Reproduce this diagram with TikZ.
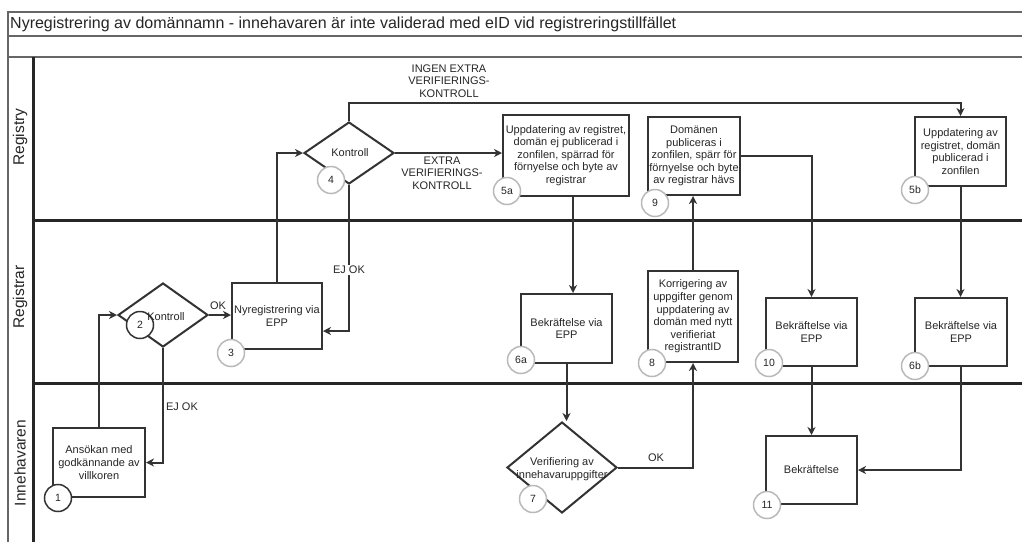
\documentclass[tikz,border=0pt]{standalone}
\usepackage{fontspec}
\setmainfont{Liberation Sans}
\usetikzlibrary{arrows.meta,shapes.geometric}
\tikzset{
  box/.style={draw=black!80, line width=2pt, fill=white, inner sep=0pt, align=center,
    font=\fontsize{11}{12.6}\selectfont, text=black!85},
  dia/.style={diamond, draw=black!80, line width=2pt, fill=white, inner sep=0pt},
  num/.style={circle, draw=gray!55, line width=1.5pt, fill=white, minimum size=27pt,
    inner sep=0pt, font=\fontsize{10.5}{11}\selectfont, text=black!85},
  numdark/.style={num, draw=black!80},
  flow/.style={draw=black!80, line width=2pt, -{Stealth[length=8pt,width=8pt,inset=2.5pt]}},
  lab/.style={font=\fontsize{11}{12.6}\selectfont, align=center, text=black!85, inner sep=1pt},
  lane/.style={line width=3pt, draw=black!85},
  frm/.style={line width=1.6pt, draw=black!60},
  lanelab/.style={rotate=90, font=\fontsize{15.5}{17}\selectfont, text=black!85}
}
\begin{document}
\begin{tikzpicture}[x=1pt,y=-1pt]
\useasboundingbox (0,0) rectangle (1022,542);
\fill[white] (0,0) rectangle (1022,542);
% frame
\draw[frm] (1022,12) -- (8,12) -- (8,542);
\draw[frm] (8,36) -- (1022,36);
\draw[frm] (8,57) -- (1022,57);
\draw[lane] (33,57) -- (33,542);
\draw[lane] (33,220) -- (1022,220);
\draw[lane] (33,383) -- (1022,383);
\node[anchor=west, font=\fontsize{16}{18}\selectfont, text=black!85, inner sep=0pt] (title) at (10,24)
  {Nyregistrering av domännamn - innehavaren är inte validerad med eID vid registreringstillfället};
\node[lanelab] (l1) at (20,137) {Registry};
\node[lanelab] (l2) at (20,297) {Registrar};
\node[lanelab] (l3) at (20,463) {Innehavaren};

% boxes
\node[box, minimum width=92pt, minimum height=69pt] (n1) at (99,462.5) {Ansökan med\\godkännande av\\villkoren};
\node[dia, minimum width=90pt, minimum height=64pt] (n2) at (163,315) {};
\node[box, minimum width=90pt, minimum height=66pt] (n3) at (277,316) {Nyregistrering via\\EPP};
\node[dia, minimum width=90pt, minimum height=62pt] (n4) at (349,153) {};
\node[box, minimum width=126pt, minimum height=81pt] (n5a) at (566,155.5)
  {Uppdatering av registret,\\domän ej publicerad i\\zonfilen, spärrad för\\förnyelse och byte av\\registrar};
\node[box, minimum width=92pt, minimum height=78pt] (n9) at (694,156)
  {Domänen\\publiceras i\\zonfilen, spärr för\\förnyelse och byte\\av registrar hävs};
\node[box, minimum width=91pt, minimum height=69pt] (n5b) at (960.5,151.5)
  {Uppdatering av\\registret, domän\\publicerad i\\zonfilen};
\node[box, minimum width=91pt, minimum height=69pt] (n6a) at (566.5,328.5) {Bekräftelse via\\EPP};
\node[box, minimum width=90pt, minimum height=91pt] (n8) at (693,316.5)
  {Korrigering av\\uppgifter genom\\uppdatering av\\domän med nytt\\verifieriat\\registrantID};
\node[box, minimum width=91pt, minimum height=68pt] (n10) at (811.5,332) {Bekräftelse via\\EPP};
\node[box, minimum width=92pt, minimum height=68pt] (n6b) at (961,332) {Bekräftelse via\\EPP};
\node[dia, minimum width=110pt, minimum height=91pt] (n7) at (562,467.5) {};
\node[box, minimum width=91pt, minimum height=68pt] (n11) at (811.5,470) {Bekräftelse};

% connectors
\draw[flow] (n1.north) |- (n2.west);
\draw[flow] (n2.east) -- (n2.east -| n3.west);
\node[lab] (okA) at (218,306) {OK};
\draw[flow] (n2.south) |- (n1.east);
\node[lab] (ejA) at (182,407) {EJ OK};
\draw[flow] (n3.north) |- (n4.west);
\draw[flow] (n4.south) |- ([yshift=-15pt]n3.east);
\node[lab, fill=white] (ejB) at (349,270) {EJ OK};
\draw[flow] (n4.east) -- (n4.east -| n5a.west);
\node[lab] (exA) at (442,173) {EXTRA\\VERIFIERINGS-\\KONTROLL};
\draw[flow] (n4.north) -- (n4.north |- 0,103) -| (n5b.north);
\node[lab] (exB) at (449,81) {INGEN EXTRA\\VERIFIERINGS-\\KONTROLL};
\draw[flow] (n5a.south -| 573,0) -- (n6a.north -| 573,0);
\draw[flow] (n6a.south) -- (n6a.south |- n7.north);
\draw[flow] (n7.east) -| (n8.south);
\node[lab] (okB) at (656,458) {OK};
\draw[flow] (n8.north) -- (n8.north |- n9.south);
\draw[flow] (n9.east) -| (n10.north);
\draw[flow] (n5b.south) -- (n5b.south |- n6b.north);
\draw[flow] (n10.south) -- (n11.north);
\draw[flow] (n6b.south) |- (n11.east);

% step numbers
\node[numdark] (c1) at (58,498) {1};
\node[numdark] (c2) at (140,325) {2};
\node[num] (c3) at (231,353) {3};
\node[num] (c4) at (331,180) {4};
\node[num] (c5a) at (507,191) {5a};
\node[num] (c9) at (655,203) {9};
\node[num] (c5b) at (915,190) {5b};
\node[num] (c6a) at (521,360) {6a};
\node[num] (c8) at (652,363) {8};
\node[num] (c10) at (769,363) {10};
\node[num] (c6b) at (915,366) {6b};
\node[num] (c7) at (533,499) {7};
\node[num] (c11) at (767,505) {11};

% decision texts (drawn over the step circles)
\node[lab] (n2t) at (166,317) {Kontroll};
\node[lab] (n4t) at (350,153) {Kontroll};
\node[lab] (n7t) at (562,469) {Verifiering av\\innehavaruppgifter};
\end{tikzpicture}
\end{document}
